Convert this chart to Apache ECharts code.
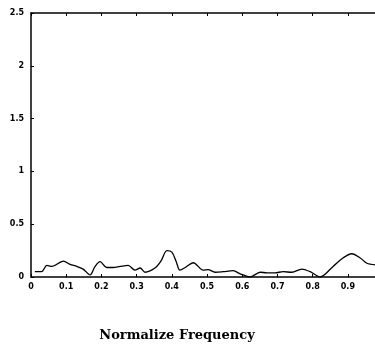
<!DOCTYPE html>
<html>
<head>
<meta charset="utf-8">
<script src="https://cdn.jsdelivr.net/npm/echarts@6/dist/echarts.min.js"></script>
<style>
    html, body { margin: 0; padding: 0; background: #fff; }
    #chart { width: 375px; height: 347px; }
</style>
</head>
<body>
<div id="chart"></div>
<script>
const freq = [0.011, 0.030, 0.045, 0.059, 0.092, 0.111, 0.130, 0.148, 0.168, 0.182,
    0.196, 0.215, 0.233, 0.253, 0.276, 0.295, 0.310, 0.324, 0.352, 0.369,
    0.386, 0.400, 0.412, 0.423, 0.438, 0.461, 0.489, 0.503, 0.523, 0.545,
    0.574, 0.594, 0.602, 0.622, 0.651, 0.670, 0.693, 0.716, 0.741, 0.769,
    0.793, 0.821, 0.858, 0.886, 0.911, 0.935, 0.954, 0.977];
const amp = [0.05, 0.05, 0.11, 0.10, 0.15, 0.12, 0.10, 0.075, 0.02, 0.10,
    0.145, 0.09, 0.09, 0.10, 0.11, 0.065, 0.085, 0.045, 0.085, 0.15,
    0.25, 0.235, 0.15, 0.065, 0.09, 0.135, 0.065, 0.07, 0.045, 0.05,
    0.06, 0.03, 0.02, 0.0, 0.045, 0.04, 0.04, 0.05, 0.045, 0.075,
    0.05, 0.0, 0.10, 0.18, 0.22, 0.18, 0.13, 0.115];
const xTitle = 'Normalize Frequency';

const chart = echarts.init(document.getElementById('chart'));

const labelStyle = {
    color: '#000',
    fontFamily: 'DejaVu Sans',
    fontWeight: 'bold',
    fontSize: 8
};

chart.setOption({
    animation: false,
    backgroundColor: '#fff',
    grid: { left: 31, right: 0, top: 13, bottom: 70 },
    graphic: [{
        type: 'text',
        x: 177,
        y: 336,
        style: {
            text: xTitle,
            align: 'center',
            verticalAlign: 'middle',
            fill: '#000',
            font: 'bold 13px "DejaVu Serif"'
        }
    }],
    xAxis: [{
        type: 'value',
        min: 0,
        max: 0.977,
        interval: 0.1,
        axisLine: { onZero: false, lineStyle: { color: '#000', width: 1.5 } },
        axisTick: { inside: true, length: 3, lineStyle: { color: '#000' } },
        splitLine: { show: false },
        axisLabel: { ...labelStyle, margin: 6, showMaxLabel: false, formatter: v => String(+v.toFixed(1)) }
    }, {
        type: 'value',
        position: 'top',
        min: 0,
        max: 0.977,
        interval: 0.1,
        axisLine: { show: true, onZero: false, lineStyle: { color: '#000', width: 1.5 } },
        axisTick: { inside: true, length: 3, lineStyle: { color: '#000' } },
        splitLine: { show: false },
        axisLabel: { show: false }
    }],
    yAxis: {
        type: 'value',
        min: 0,
        max: 2.5,
        interval: 0.5,
        axisLine: { show: true, lineStyle: { color: '#000', width: 1.5 } },
        axisTick: { show: true, inside: true, length: 3, lineStyle: { color: '#000' } },
        splitLine: { show: false },
        axisLabel: { ...labelStyle, margin: 7 }
    },
    series: [{
        type: 'line',
        data: freq.map((f, i) => [f, amp[i]]),
        smooth: 0.3,
        showSymbol: false,
        lineStyle: { color: '#000', width: 1.3 }
    }]
});
</script>
</body>
</html>
